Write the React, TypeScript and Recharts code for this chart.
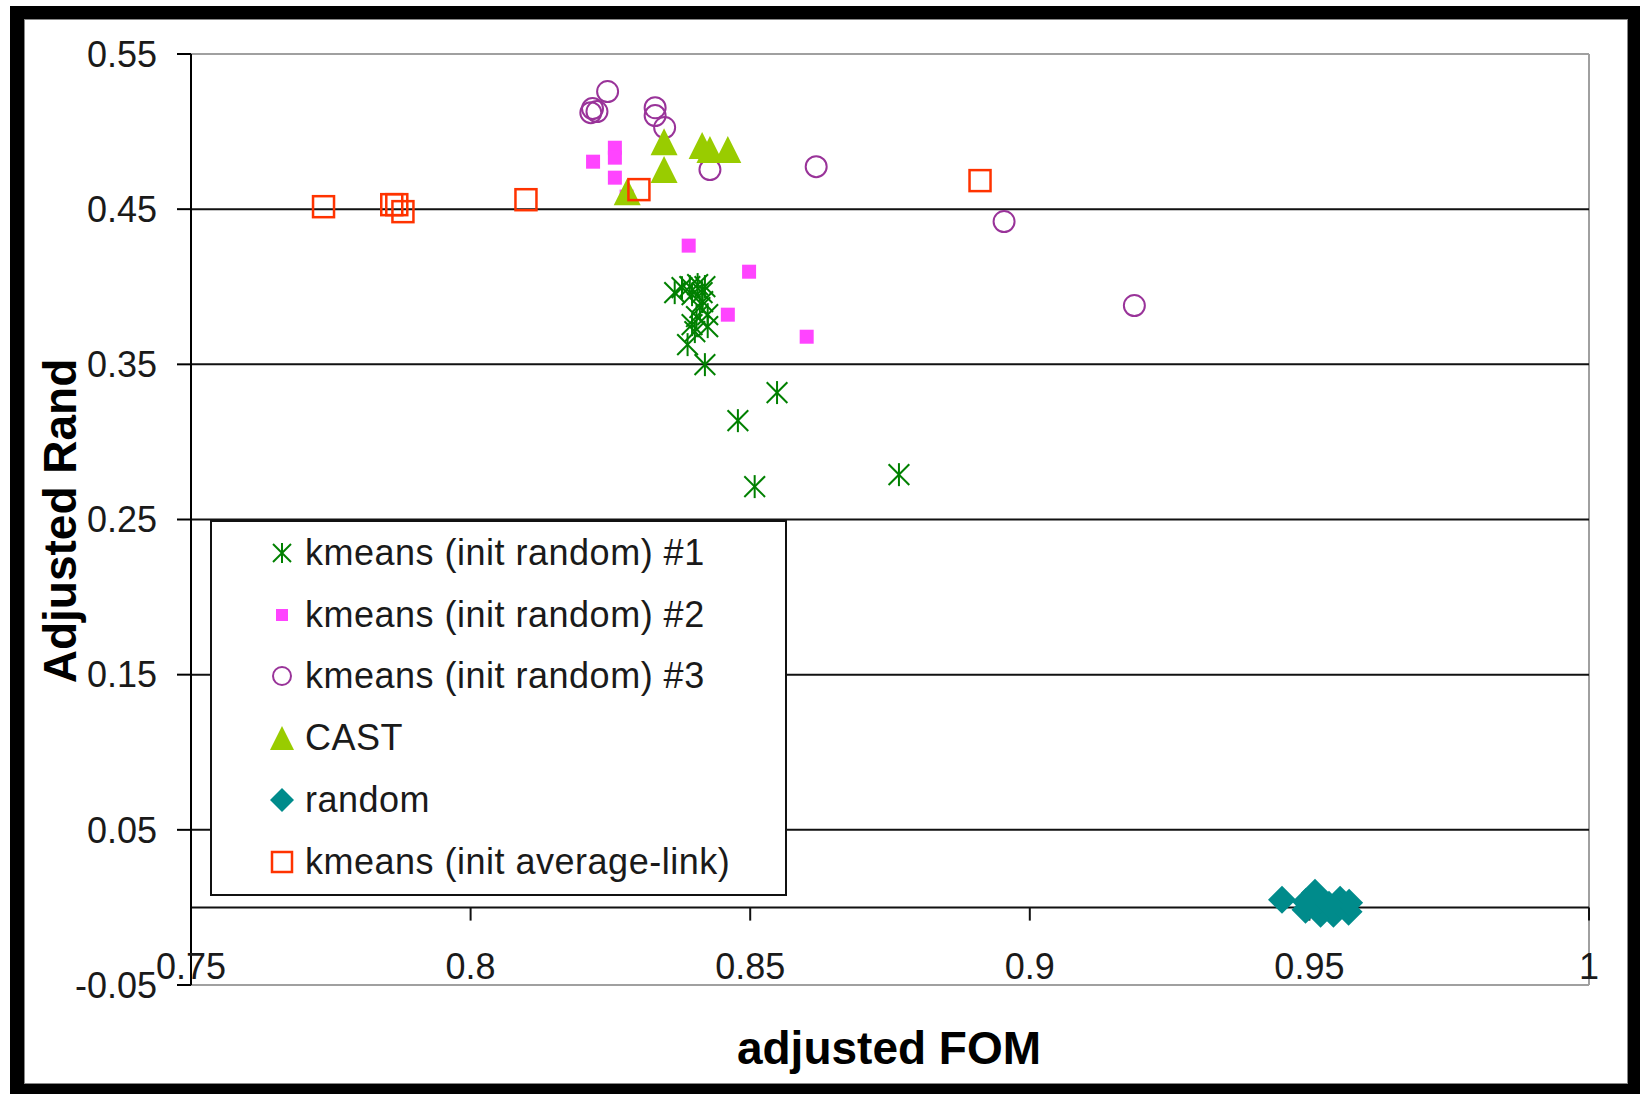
import React from "react";
import { ScatterChart, Scatter, XAxis, YAxis, ReferenceLine } from "recharts";

const xTicks = [0.75, 0.8, 0.85, 0.9, 0.95, 1];
const yTicks = [-0.05, 0.05, 0.15, 0.25, 0.35, 0.45, 0.55];
const gridValues = [0.05, 0.15, 0.25, 0.35, 0.45];

// [adjusted FOM, adjusted Rand]
const kmeans1 = [
  [0.8365, 0.3962], [0.8378, 0.3994], [0.8392, 0.4001], [0.8406, 0.4014],
  [0.8419, 0.4001], [0.8414, 0.3962], [0.8396, 0.3949], [0.8415, 0.3904],
  [0.841, 0.3866], [0.8404, 0.3808], [0.8424, 0.382], [0.8396, 0.3756],
  [0.8424, 0.3743], [0.8401, 0.3711], [0.8388, 0.3627], [0.8419, 0.3498],
  [0.8548, 0.3318], [0.8478, 0.3137], [0.8508, 0.2712], [0.8766, 0.2789],
];
const kmeans2 = [
  [0.8219, 0.4806], [0.8258, 0.4896], [0.8258, 0.4832], [0.8258, 0.4703],
  [0.8279, 0.4581], [0.839, 0.4265], [0.8498, 0.4097], [0.846, 0.382],
  [0.8601, 0.3678],
];
const kmeans3 = [
  [0.8245, 0.5258], [0.8218, 0.5148], [0.8226, 0.5129], [0.8215, 0.5122],
  [0.833, 0.5154], [0.833, 0.5103], [0.8347, 0.5026], [0.8428, 0.4755],
  [0.8618, 0.4774], [0.8954, 0.442], [0.9187, 0.3879],
];
const cast = [
  [0.8346, 0.4935], [0.8346, 0.4755], [0.8414, 0.491], [0.8428, 0.4884],
  [0.846, 0.4884], [0.828, 0.4613],
];
const randomRuns = [
  [0.9451, 0.0049], [0.9494, 0.0036], [0.951, 0.0094], [0.9493, -0.0015],
  [0.952, -0.0041], [0.9543, -0.0041], [0.9555, 0.0049], [0.957, -0.0028],
  [0.9571, 0.003], [0.9535, 0.0017],
];
const avgLink = [
  [0.7737, 0.4516], [0.7859, 0.4529], [0.7868, 0.4529], [0.7879, 0.4484],
  [0.8099, 0.4561], [0.8301, 0.4626], [0.8911, 0.4684],
];

const seriesNames = [
  "kmeans (init random) #1",
  "kmeans (init random) #2",
  "kmeans (init random) #3",
  "CAST",
  "random",
  "kmeans (init average-link)",
];

const toPts = (arr: number[][]) => arr.map(([x, y]) => ({ x, y }));

const FONT = '"Liberation Sans", Arial, Helvetica, sans-serif';

const Star = ({ cx, cy, r = 11.5 }: any) => {
  const d = r * 0.9;
  return (
    <g stroke="#008000" strokeWidth={2}>
      <line x1={cx} y1={cy - r} x2={cx} y2={cy + r} />
      <line x1={cx - d} y1={cy - d} x2={cx + d} y2={cy + d} />
      <line x1={cx - d} y1={cy + d} x2={cx + d} y2={cy - d} />
    </g>
  );
};
const FilledSquare = ({ cx, cy, s = 14 }: any) => (
  <rect x={cx - s / 2} y={cy - s / 2} width={s} height={s} fill="#ff44ff" />
);
const OpenCircle = ({ cx, cy, r = 10.5 }: any) => (
  <circle cx={cx} cy={cy} r={r} fill="none" stroke="#993399" strokeWidth={2} />
);
const Triangle = ({ cx, cy, s = 27 }: any) => (
  <polygon
    points={`${cx},${cy - s / 2} ${cx - s / 2},${cy + s / 2} ${cx + s / 2},${cy + s / 2}`}
    fill="#99cc00"
  />
);
const Diamond = ({ cx, cy, s = 14 }: any) => (
  <polygon
    points={`${cx},${cy - s} ${cx + s},${cy} ${cx},${cy + s} ${cx - s},${cy}`}
    fill="#008b8b"
  />
);
const OpenSquare = ({ cx, cy, s = 21 }: any) => (
  <rect x={cx - s / 2} y={cy - s / 2} width={s} height={s} fill="none" stroke="#ff3300" strokeWidth={2.5} />
);

const legendIcons = [
  <Star cx={12} cy={12} r={10} />,
  <FilledSquare cx={12} cy={12} s={12} />,
  <OpenCircle cx={12} cy={12} r={9} />,
  <Triangle cx={12} cy={12} s={24} />,
  <Diamond cx={12} cy={12} s={12} />,
  <OpenSquare cx={12} cy={12} s={20} />,
];

const XTick = ({ x, y, payload }: any) => (
  <text x={x} y={y} dy={-6} textAnchor="middle" fontSize={36} fontFamily={FONT} fill="#1a1a1a">
    {payload.value}
  </text>
);

export default function App() {
  return (
    <div style={{ position: "absolute", left: 0, top: 0, width: 1640, height: 1094, background: "#fff", fontFamily: FONT }}>
      <ScatterChart width={1640} height={1094} margin={{ top: 54, right: 51, bottom: 79, left: 0 }}>
        <XAxis
          type="number"
          dataKey="x"
          domain={[0.75, 1]}
          ticks={xTicks}
          interval={0}
          height={30}
          axisLine={false}
          tickLine={false}
          tickSize={0}
          tickMargin={0}
          tick={<XTick />}
        />
        <YAxis
          type="number"
          dataKey="y"
          domain={[-0.05, 0.55]}
          ticks={yTicks}
          interval={0}
          width={191}
          axisLine={{ stroke: "#000", strokeWidth: 2 }}
          tickLine={{ stroke: "#000", strokeWidth: 2 }}
          tickSize={14}
          tickMargin={20}
          tick={{ fontSize: 36, fill: "#1a1a1a", fontFamily: FONT }}
        />
        <ReferenceLine y={0.55} stroke="#a0a0a0" strokeWidth={2} ifOverflow="visible" />
        <ReferenceLine y={-0.05} stroke="#a0a0a0" strokeWidth={2} ifOverflow="visible" />
        <ReferenceLine x={1} stroke="#a0a0a0" strokeWidth={2} ifOverflow="visible" />
        {gridValues.map((v) => (
          <ReferenceLine key={`g${v}`} y={v} stroke="#111" strokeWidth={2} />
        ))}
        <ReferenceLine y={0} stroke="#111" strokeWidth={2} />
        {xTicks.map((t) => (
          <ReferenceLine
            key={`t${t}`}
            segment={[{ x: t, y: 0 }, { x: t, y: -0.0085 }]}
            stroke="#111"
            strokeWidth={2}
            ifOverflow="visible"
          />
        ))}
        <Scatter name={seriesNames[0]} data={toPts(kmeans1)} shape={<Star />} isAnimationActive={false} />
        <Scatter name={seriesNames[1]} data={toPts(kmeans2)} shape={<FilledSquare />} isAnimationActive={false} />
        <Scatter name={seriesNames[2]} data={toPts(kmeans3)} shape={<OpenCircle />} isAnimationActive={false} />
        <Scatter name={seriesNames[3]} data={toPts(cast)} shape={<Triangle />} isAnimationActive={false} />
        <Scatter name={seriesNames[4]} data={toPts(randomRuns)} shape={<Diamond />} isAnimationActive={false} />
        <Scatter name={seriesNames[5]} data={toPts(avgLink)} shape={<OpenSquare />} isAnimationActive={false} />
      </ScatterChart>

      {/* legend box */}
      <div
        style={{
          position: "absolute",
          left: 210,
          top: 520,
          width: 577,
          height: 376,
          boxSizing: "border-box",
          border: "2px solid #111",
          background: "#fff",
          paddingTop: 0,
        }}
      >
        {seriesNames.map((name, i) => (
          <div key={name} style={{ height: 61.8, display: "flex", alignItems: "center" }}>
            <svg width={24} height={24} style={{ marginLeft: 58, marginRight: 11, flex: "none" }}>
              {legendIcons[i]}
            </svg>
            <span style={{ fontSize: 36, letterSpacing: 0.5, color: "#1a1a1a", whiteSpace: "nowrap" }}>{name}</span>
          </div>
        ))}
      </div>

      {/* axis titles */}
      <div
        style={{
          position: "absolute",
          left: 60,
          top: 521,
          transform: "translate(-50%, -50%) rotate(-90deg)",
          fontSize: 46,
          fontWeight: "bold",
          whiteSpace: "nowrap",
          color: "#000",
        }}
      >
        Adjusted Rand
      </div>
      <div
        style={{
          position: "absolute",
          left: 889,
          top: 1048,
          transform: "translate(-50%, -50%)",
          fontSize: 46,
          fontWeight: "bold",
          whiteSpace: "nowrap",
          color: "#000",
        }}
      >
        adjusted FOM
      </div>

      {/* outer frame */}
      <div
        style={{
          position: "absolute",
          left: 10,
          top: 6,
          width: 1630,
          height: 1088,
          boxSizing: "border-box",
          borderTop: "13px solid #000",
          borderLeft: "14px solid #000",
          borderRight: "12px solid #000",
          borderBottom: "10px solid #000",
          pointerEvents: "none",
        }}
      >
        <div style={{ position: "absolute", inset: 0, border: "1px solid #888" }} />
      </div>
    </div>
  );
}
